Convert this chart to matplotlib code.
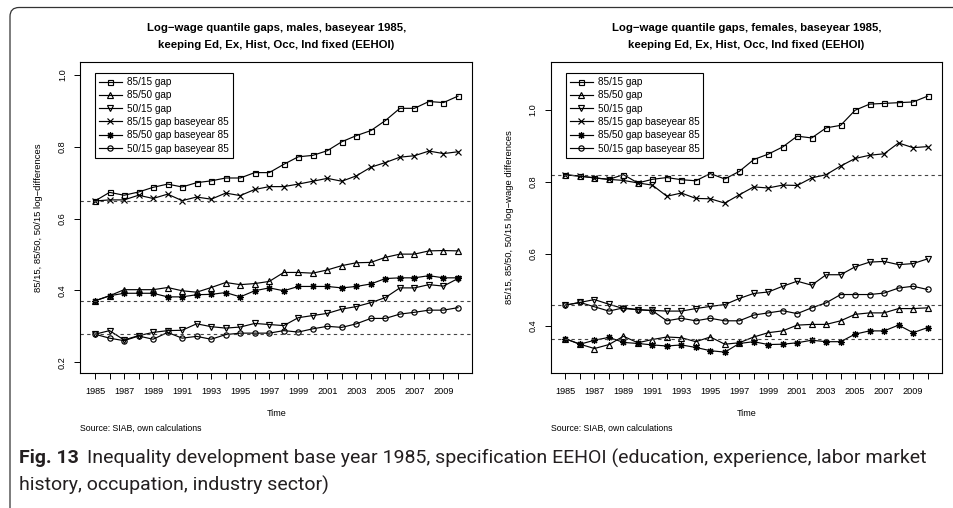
import matplotlib
matplotlib.use("Agg")
import matplotlib.pyplot as plt
from matplotlib.patches import FancyBboxPatch
from matplotlib.transforms import IdentityTransform

W, H = 954, 508

years = list(range(1985, 2011))

labels = ["85/15 gap", "85/50 gap", "50/15 gap",
          "85/15 gap baseyear 85", "85/50 gap baseyear 85", "50/15 gap baseyear 85"]

# males
m_8515 = [0.649, 0.673, 0.665, 0.674, 0.687, 0.696, 0.688, 0.700, 0.705, 0.713, 0.713, 0.728, 0.728,
          0.751, 0.772, 0.776, 0.789, 0.814, 0.831, 0.845, 0.873, 0.907, 0.907, 0.926, 0.923, 0.941]
m_8550 = [0.371, 0.385, 0.402, 0.402, 0.402, 0.408, 0.399, 0.395, 0.408, 0.422, 0.416, 0.419, 0.425,
          0.450, 0.450, 0.448, 0.457, 0.469, 0.477, 0.478, 0.492, 0.501, 0.501, 0.510, 0.511, 0.510]
m_5015 = [0.278, 0.288, 0.262, 0.274, 0.283, 0.288, 0.289, 0.307, 0.299, 0.295, 0.298, 0.308, 0.305,
          0.302, 0.324, 0.330, 0.336, 0.348, 0.355, 0.366, 0.380, 0.407, 0.407, 0.416, 0.412, 0.433]
m_8515_b = [0.649, 0.652, 0.652, 0.665, 0.656, 0.668, 0.650, 0.660, 0.654, 0.671, 0.664, 0.681, 0.689,
            0.689, 0.696, 0.704, 0.712, 0.704, 0.719, 0.743, 0.756, 0.771, 0.775, 0.788, 0.781, 0.786]
m_8550_b = [0.371, 0.385, 0.392, 0.392, 0.392, 0.382, 0.382, 0.388, 0.389, 0.394, 0.382, 0.399, 0.407,
            0.399, 0.411, 0.411, 0.411, 0.407, 0.411, 0.418, 0.433, 0.435, 0.435, 0.441, 0.435, 0.435]
m_5015_b = [0.278, 0.267, 0.260, 0.273, 0.264, 0.283, 0.267, 0.272, 0.264, 0.277, 0.281, 0.281, 0.281,
            0.288, 0.284, 0.293, 0.300, 0.297, 0.307, 0.322, 0.322, 0.334, 0.339, 0.345, 0.345, 0.352]

# females
f_8515 = [0.8195, 0.816, 0.811, 0.807, 0.820, 0.797, 0.807, 0.812, 0.806, 0.803, 0.823, 0.808, 0.829,
          0.862, 0.877, 0.897, 0.927, 0.922, 0.950, 0.957, 0.999, 1.016, 1.018, 1.020, 1.022, 1.038]
f_8550 = [0.364, 0.349, 0.337, 0.348, 0.371, 0.353, 0.362, 0.369, 0.367, 0.356, 0.369, 0.349, 0.353,
          0.369, 0.381, 0.386, 0.402, 0.404, 0.404, 0.414, 0.432, 0.436, 0.436, 0.448, 0.448, 0.450]
f_5015 = [0.4575, 0.465, 0.473, 0.460, 0.448, 0.445, 0.443, 0.441, 0.441, 0.448, 0.454, 0.459, 0.476,
          0.490, 0.494, 0.510, 0.524, 0.513, 0.542, 0.542, 0.564, 0.577, 0.579, 0.570, 0.573, 0.586]
f_8515_b = [0.8195, 0.816, 0.811, 0.807, 0.804, 0.797, 0.791, 0.760, 0.769, 0.754, 0.753, 0.741, 0.764,
            0.786, 0.783, 0.791, 0.790, 0.811, 0.820, 0.844, 0.865, 0.874, 0.878, 0.908, 0.895, 0.898]
f_8550_b = [0.364, 0.349, 0.360, 0.368, 0.354, 0.351, 0.347, 0.344, 0.347, 0.340, 0.331, 0.327, 0.351,
            0.356, 0.348, 0.349, 0.353, 0.360, 0.356, 0.356, 0.377, 0.386, 0.386, 0.402, 0.381, 0.395]
f_5015_b = [0.4575, 0.465, 0.453, 0.441, 0.450, 0.445, 0.442, 0.414, 0.421, 0.414, 0.421, 0.414, 0.414,
            0.430, 0.436, 0.442, 0.434, 0.450, 0.464, 0.487, 0.487, 0.487, 0.491, 0.505, 0.510, 0.501]

titles = ["Log\u2212wage quantile gaps, males, baseyear 1985,",
          "Log\u2212wage quantile gaps, females, baseyear 1985,"]
title2 = "keeping Ed, Ex, Hist, Occ, Ind fixed (EEHOI)"
ylabels = ["85/15, 85/50, 50/15 log\u2212differences",
           "85/15, 85/50, 50/15 log\u2212wage differences"]
caption_1 = "Inequality development base year 1985, specification EEHOI (education, experience, labor market"
caption_2 = "history, occupation, industry sector)"

FONT = "Liberation Sans"
CAP_FONT = "Roboto"

markers = ["s", "^", "v", "x", (8, 2, 0), "o"]
msizes = [3.6, 4.4, 4.4, 4.2, 5.0, 3.8]


def fx(x):
    return x / W


def fy(y):
    return 1 - y / H


def draw_panel(fig, left_px, width_px, series, ylim, yticks, title1, ylabel):
    top, bottom = 62, 373
    ax = fig.add_axes([fx(left_px), fy(bottom), width_px / W, (bottom - top) / H])
    for vals, lab, mk, ms in zip(series, labels, markers, msizes):
        ax.plot(years, vals, color="black", lw=0.85, marker=mk, ms=ms, mew=0.85,
                mfc="none", mec="black", label=lab)
    # reference lines at the 1985 level
    for vals in series[:3]:
        ax.axhline(vals[0], color="#444444", lw=0.8, ls=(0, (3, 3)))
    ax.set_xlim(1984, 2011)
    ax.set_ylim(*ylim)
    ax.set_xticks(years)
    ax.set_xticklabels([str(y) if y % 2 else "" for y in years])
    ax.set_yticks(yticks)
    ax.set_yticklabels([f"{v:.1f}" for v in yticks])
    ax.tick_params(direction="out", length=4.3, width=0.7, labelsize=6.6, pad=5.5)
    ax.tick_params(axis="y", labelrotation=90)
    for t in ax.get_yticklabels():
        t.set_va("center")
    for s in ax.spines.values():
        s.set_linewidth(0.8)

    leg = ax.legend(loc="upper left", bbox_to_anchor=(14.5 / width_px, (bottom - 73) / (bottom - top)),
                    borderaxespad=0, fancybox=False, edgecolor="black", framealpha=1,
                    fontsize=7.2, handlelength=2.3, handletextpad=0.5, borderpad=0.4,
                    labelspacing=0.33)
    leg.get_frame().set_linewidth(0.8)

    cx = left_px + width_px / 2
    fig.text(fx(cx), fy(28), title1, ha="center", va="center", fontsize=8.2, fontweight="bold")
    fig.text(fx(cx), fy(45), title2, ha="center", va="center", fontsize=8.2, fontweight="bold")
    fig.text(fx(left_px - 42), fy((top + bottom) / 2), ylabel, rotation=90,
             ha="center", va="center", fontsize=6.8)
    fig.text(fx(cx), fy(414), "Time", ha="center", va="center", fontsize=6.5)
    fig.text(fx(left_px), fy(428), "Source: SIAB, own calculations", ha="left", va="center",
             fontsize=6.3)
    return ax


def main():
    plt.rcParams["font.family"] = [FONT, "DejaVu Sans"]
    fig = plt.figure(figsize=(W / 100, H / 100), dpi=100)

    draw_panel(fig, 80.5, 392, [m_8515, m_8550, m_5015, m_8515_b, m_8550_b, m_5015_b],
               (0.170, 1.036), [0.2, 0.4, 0.6, 0.8, 1.0], titles[0], ylabels[0])
    draw_panel(fig, 551, 391, [f_8515, f_8550, f_5015, f_8515_b, f_8550_b, f_5015_b],
               (0.269, 1.133), [0.4, 0.6, 0.8, 1.0], titles[1], ylabels[1])

    # rounded frame around the figure (only top and left visible)
    frame = FancyBboxPatch((10, -40), 1000, H - 7.5 + 40, boxstyle="round,pad=0,rounding_size=9",
                           transform=IdentityTransform(), fill=False, ec="#333333", lw=0.9)
    fig.add_artist(frame)

    # caption, fitted to its width in the reference
    renderer = fig.canvas.get_renderer()
    size = 11.0
    t_fig = fig.text(fx(19), fy(458), "Fig. 13", fontsize=size, fontweight="bold",
                     family=CAP_FONT, va="center", color="#231f20")
    t_rest = fig.text(0, fy(458), caption_1, fontsize=size, family=CAP_FONT, va="center",
                      color="#231f20")
    t_two = fig.text(fx(19), fy(485), caption_2, fontsize=size, family=CAP_FONT, va="center",
                     color="#231f20")

    def place():
        bb = t_fig.get_window_extent(renderer)
        t_rest.set_x(fx(bb.x1 + 8))

    for _ in range(3):
        place()
        end = t_rest.get_window_extent(renderer).x1
        size *= (925 - 19) / (end - 19)
        for t in (t_fig, t_rest, t_two):
            t.set_fontsize(size)
    place()

    fig.savefig("out.png", dpi=100)


if __name__ == "__main__":
    main()
